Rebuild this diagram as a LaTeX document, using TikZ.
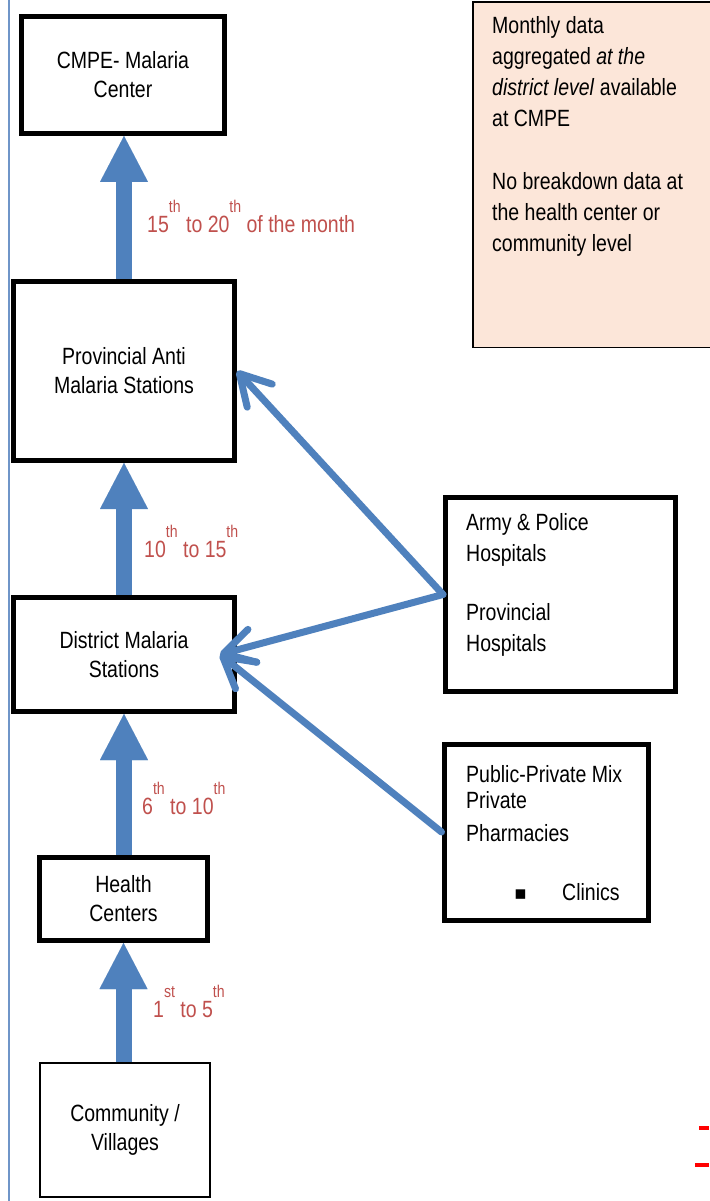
\documentclass[tikz,border=0pt]{standalone}
\usepackage{fontspec}
\setmainfont[FakeStretch=0.83]{Liberation Sans}
\newfontfamily\symfont{DejaVu Sans}
\usetikzlibrary{arrows.meta}
\definecolor{arrblue}{HTML}{4F81BD}
\definecolor{lineblue}{HTML}{6F95C8}
\definecolor{lblred}{HTML}{C0504D}
\definecolor{notefill}{HTML}{FCE6D9}
\newcommand{\ordsup}[1]{\raisebox{20pt}{\fontsize{17}{17}\selectfont #1}}
\begin{document}
\begin{tikzpicture}[x=1pt,y=-1pt,
  txt/.style={font=\fontsize{23.5}{29}\selectfont, inner sep=0pt},
  box/.style={txt, draw=black, line width=5pt, fill=white, align=center},
  thinbox/.style={txt, draw=black, line width=2pt, fill=white, align=center},
  notebox/.style={draw=black, line width=1.5pt, fill=notefill},
  lbl/.style={font=\fontsize{23.5}{24}\selectfont, text=lblred, inner sep=0pt, anchor=base west},
  para/.style={font=\fontsize{23.5}{31}\selectfont, inner sep=0pt, align=left, anchor=north west},
  line1/.style={font=\fontsize{23.5}{24}\selectfont, inner sep=0pt, anchor=base west},
  blockarr/.style={draw=arrblue, line width=16pt, -{Triangle[length=46pt,width=48pt,line width=0.01pt]}},
  thinarr/.style={draw=arrblue, line width=7pt, line cap=round, -{Straight Barb[length=30pt,width=34pt,round]}}
]
\useasboundingbox (0,0) rectangle (709,1201);
\fill[white] (0,0) rectangle (709,1201);

% left rule
\draw[lineblue, line width=1.5pt] (9,0) -- (9,1201);

% note box
\node[notebox, minimum width=250pt, minimum height=345pt, anchor=north west] (notes) at (472,1.5) {};
\node[para] (notes1) at (492,16) {Monthly data\\aggregated \textit{at the}\\\textit{district level} available\\at CMPE};
\node[para] (notes2) at (492,172) {No breakdown data at\\the health center or\\community level};

% main chain
\node[box, minimum width=203pt, minimum height=117pt] (cmpe) at (123,75) {CMPE- Malaria\\Center};
\node[box, minimum width=221pt, minimum height=179pt] (prov) at (124,371) {Provincial Anti\\Malaria Stations};
\node[box, minimum width=221pt, minimum height=114pt] (dist) at (124,654.5) {District Malaria\\Stations};
\node[box, minimum width=168pt, minimum height=83pt] (hc) at (123.5,899) {Health\\Centers};
\node[thinbox, minimum width=170pt, minimum height=134pt] (comm) at (125,1130) {Community /\\Villages};

% side boxes
\node[box, minimum width=230pt, minimum height=194pt] (army) at (560.5,594.5) {};
\node[para] (army1) at (466,513) {Army \& Police\\Hospitals};
\node[para] (army2) at (466,603) {Provincial\\Hospitals};

\node[box, minimum width=204pt, minimum height=176pt] (ppm) at (546,832) {};
\node[line1] (ppm1) at (466,782) {Public-Private Mix};
\node[line1] (ppm2) at (466,808) {Private};
\node[line1] (ppm3) at (466,841) {Pharmacies};
\node[line1] (ppm4) at (514,899) {{\symfont\fontsize{19}{19}\selectfont ▪}};
\node[line1] (ppm5) at (562,900) {Clinics};

% block arrows
\draw[blockarr] (prov.north) -- (prov.north |- cmpe.south);
\draw[blockarr] (dist.north) -- (dist.north |- prov.south);
\draw[blockarr] (hc.north -| dist.south) -- (dist.south);
\draw[blockarr] (comm.north -| hc.south) -- (hc.south);

% labels
\node[lbl] (l1) at (147,232) {15\ordsup{th} to 20\ordsup{th} of the month};
\node[lbl] (l2) at (144,557) {10\ordsup{th} to 15\ordsup{th}};
\node[lbl] (l3) at (142,814) {6\ordsup{th} to 10\ordsup{th}};
\node[lbl] (l4) at (153,1017) {1\ordsup{st} to 5\ordsup{th}};

% thin arrows
\coordinate (dtip) at ([xshift=-17pt]dist.east);
\draw[thinarr] (army.west) -- (prov.east);
\draw[thinarr] (army.west) -- (dtip);
\draw[thinarr] (ppm.west) -- (dtip);

% red dashes
\draw[red, line width=4pt] (699,1128) -- (709,1128);
\draw[red, line width=4pt] (695,1165) -- (709,1165);
\end{tikzpicture}
\end{document}
